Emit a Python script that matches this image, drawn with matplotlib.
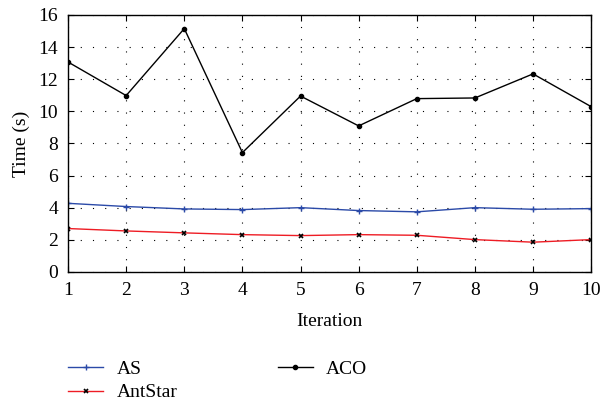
import numpy as np
import matplotlib
matplotlib.use('Agg')
import matplotlib.pyplot as plt

# Values
iterations = [1, 2, 3, 4, 5, 6, 7, 8, 9, 10]
as_time = [4.27, 4.07, 3.92, 3.88, 4.0, 3.82, 3.74, 4.0, 3.9, 3.94]
antstar_time = [2.7, 2.55, 2.43, 2.32, 2.26, 2.32, 2.28, 2.01, 1.85, 2.01]
aco_time = [13.07, 10.98, 15.15, 7.43, 10.95, 9.09, 10.79, 10.83, 12.33, 10.29]
y_ticks = [0, 2, 4, 6, 8, 10, 12, 14, 16]

plt.rcParams['font.family'] = ['Liberation Serif', 'DejaVu Serif']

fig = plt.figure(figsize=(6.02, 4.04), dpi=100)
ax = fig.add_axes([0.113, 0.327, 0.869, 0.636])

ax.plot(iterations, as_time, color='#2b4aa8', lw=1.0, marker='+', ms=5,
        mec='#2b4aa8', mew=1.0, label='AS')
ax.plot(iterations, antstar_time, color='#ee1c24', lw=1.0, marker='x', ms=3,
        mec='black', mew=1.2, label='AntStar')
ax.plot(iterations, aco_time, color='black', lw=1.0, marker='o', ms=3,
        label='ACO')

ax.set_xlim(1, 10)
ax.set_ylim(0, 16)
ax.set_xticks(iterations)
ax.set_yticks(y_ticks)
ax.grid(True, color='black', linestyle=(0, (1, 10)), lw=0.8)
ax.tick_params(direction='in', top=True, right=True, labelsize=14, length=4, pad=7)
for s in ax.spines.values():
    s.set_linewidth(1.0)

ax.set_xlabel('Iteration', fontsize=14, labelpad=10)
ax.set_ylabel('Time (s)', fontsize=14, labelpad=6)

fig.legend(loc='upper left', bbox_to_anchor=(0.113, 0.108), ncol=2, frameon=False,
           fontsize=14, handlelength=1.8, handletextpad=0.7, columnspacing=5.15,
           labelspacing=0.3, borderaxespad=0, borderpad=0)

fig.savefig('out.png', dpi=100)
